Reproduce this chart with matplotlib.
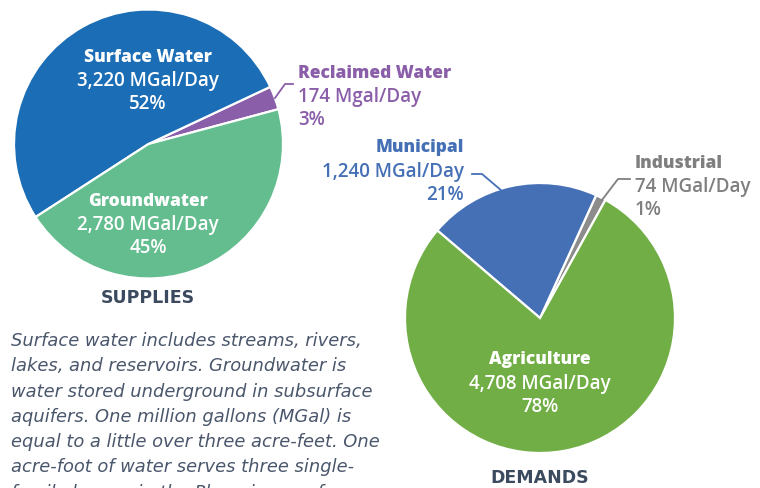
import matplotlib
matplotlib.use("Agg")
import matplotlib.pyplot as plt

plt.rcParams['font.family'] = ['Open Sans', 'DejaVu Sans']

# supplies (MGal/Day)
supply_names = ['Reclaimed Water', 'Surface Water', 'Groundwater']
supply_values = [174, 3220, 2780]
supply_pct = ['3%', '52%', '45%']
supply_colors = ['#8a5ea8', '#1b6db5', '#63bd8f']

# demands (MGal/Day)
demand_names = ['Industrial', 'Municipal', 'Agriculture']
demand_values = [74, 1240, 4708]
demand_pct = ['1%', '21%', '78%']
demand_colors = ['#8c8c8c', '#4670b6', '#71ae45']

note_lines = [
    "Surface water includes streams, rivers,",
    "lakes, and reservoirs. Groundwater is",
    "water stored underground in subsurface",
    "aquifers. One million gallons (MGal) is",
    "equal to a little over three acre-feet. One",
    "acre-foot of water serves three single-",
    "family homes in the Phoenix area for a",
]

W, H = 760, 488
fig = plt.figure(figsize=(W / 100, H / 100), dpi=100)
ax = fig.add_axes([0, 0, 1, 1])
ax.set_xlim(0, W)
ax.set_ylim(0, H)
ax.set_aspect('equal')
ax.axis('off')


def Y(y):
    # pixel row (from top) -> data y
    return H - y


wedge = dict(edgecolor='white', linewidth=1.6)
ax.pie(supply_values, colors=supply_colors, startangle=15, counterclock=True,
       center=(148.5, Y(144)), radius=134.5, wedgeprops=wedge, frame=True)
ax.pie(demand_values, colors=demand_colors, startangle=61, counterclock=True,
       center=(540, Y(318)), radius=135, wedgeprops=wedge, frame=True)
ax.set_xlim(0, W)
ax.set_ylim(0, H)
ax.axis('off')

fmt = lambda v: f"{v:,} MGal/Day"
white = dict(color='white', ha='center', va='center')
bfs = 12.5
nfs = 13.5

# inside labels
for name, val, pct, x, y0 in [
    (supply_names[1], supply_values[1], supply_pct[1], 148, 57),
    (supply_names[2], supply_values[2], supply_pct[2], 148, 201),
    (demand_names[2], demand_values[2], demand_pct[2], 540, 360),
]:
    ax.text(x, Y(y0), name, fontsize=bfs, fontweight='heavy', **white)
    ax.text(x, Y(y0 + 24), fmt(val), fontsize=nfs, fontweight='semibold', **white)
    ax.text(x, Y(y0 + 47), pct, fontsize=nfs, fontweight='semibold', **white)

# outside labels
purple = supply_colors[0]
ax.text(298, Y(74), supply_names[0], color=purple, fontsize=bfs, fontweight='heavy',
        ha='left', va='center')
ax.text(298, Y(97), f"{supply_values[0]} Mgal/Day", color=purple, fontsize=nfs,
        fontweight='semibold', ha='left', va='center')
ax.text(298, Y(120), supply_pct[0], color=purple, fontsize=nfs, fontweight='semibold',
        ha='left', va='center')
ax.plot([293, 285, 275], [Y(84), Y(84), Y(98)], color=purple, lw=1.3)

blue = demand_colors[1]
ax.text(464, Y(148), demand_names[1], color=blue, fontsize=bfs, fontweight='heavy',
        ha='right', va='center')
ax.text(464, Y(172), fmt(demand_values[1]), color=blue, fontsize=nfs,
        fontweight='semibold', ha='right', va='center')
ax.text(464, Y(195), demand_pct[1], color=blue, fontsize=nfs, fontweight='semibold',
        ha='right', va='center')
ax.plot([472, 482, 502], [Y(174), Y(174), Y(191)], color=blue, lw=1.3)

grey = '#7f7f7f'
ax.text(635, Y(163), demand_names[0], color=grey, fontsize=bfs, fontweight='heavy',
        ha='left', va='center')
ax.text(635, Y(187), fmt(demand_values[0]), color=grey, fontsize=nfs,
        fontweight='semibold', ha='left', va='center')
ax.text(635, Y(210), demand_pct[0], color=grey, fontsize=nfs, fontweight='semibold',
        ha='left', va='center')
ax.plot([630, 618, 602], [Y(179), Y(179), Y(200)], color=grey, lw=1.3)

# titles
dark = '#3b4a5e'
for label, x, y in [('SUPPLIES', 148, 298), ('DEMANDS', 540, 478)]:
    ax.text(x, Y(y), label, color=dark, fontsize=12.5, fontweight='bold',
            family='DejaVu Sans', ha='center', va='center')

# note
for i, line in enumerate(note_lines):
    ax.text(11, Y(341 + i * 25.3), line, color='#4a566b', fontsize=12.9,
            fontstyle='italic', family='DejaVu Sans', ha='left', va='center')

fig.savefig('out.png', dpi=100)
